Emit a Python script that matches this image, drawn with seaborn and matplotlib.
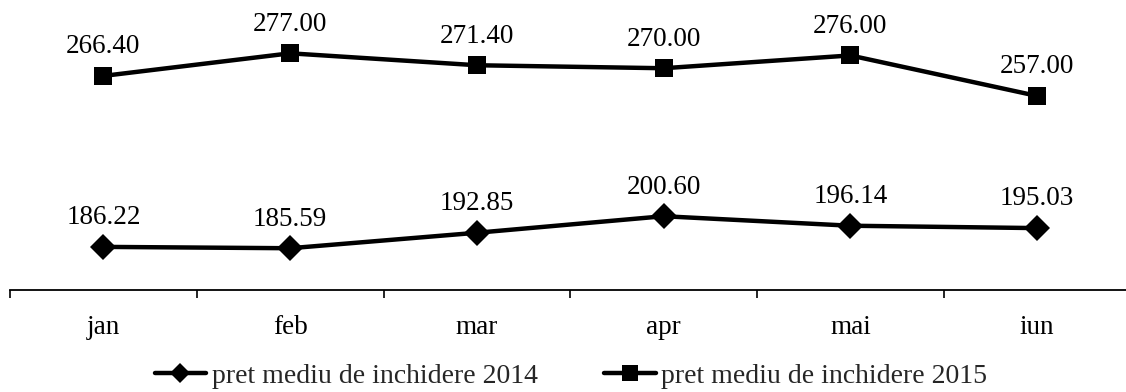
import matplotlib
matplotlib.use("Agg")
import matplotlib.pyplot as plt
from matplotlib.ticker import FixedLocator, NullFormatter
from matplotlib.lines import Line2D
import seaborn as sns
import pandas as pd

months = ["jan", "feb", "mar", "apr", "mai", "iun"]
pret_2014 = [186.22, 185.59, 192.85, 200.60, 196.14, 195.03]
pret_2015 = [266.40, 277.00, 271.40, 270.00, 276.00, 257.00]
label_2014 = "pret mediu de inchidere 2014"
label_2015 = "pret mediu de inchidere 2015"

sns.set_theme(style="white")
plt.rcParams["font.family"] = ["Liberation Serif", "DejaVu Serif"]

df = pd.DataFrame({
    "luna": months * 2,
    "pret": pret_2014 + pret_2015,
    "serie": [label_2014] * len(months) + [label_2015] * len(months),
})

fig = plt.figure(figsize=(11.26, 3.92), dpi=100)
ax = fig.add_axes([10 / 1126, 1 - 290 / 392, 1 - 10 / 1126 + 0.004, 290 / 392])

sns.lineplot(
    data=df, x="luna", y="pret", hue="serie", style="serie",
    markers={label_2014: "D", label_2015: "s"}, dashes=False,
    palette={label_2014: "black", label_2015: "black"},
    markersize=13, linewidth=3.2, markeredgewidth=0, ax=ax, legend=False,
)

# value labels above each point
for vals in (pret_2014, pret_2015):
    for i, v in enumerate(vals):
        ax.annotate(f"{v:.2f}", (i, v), xytext=(0, 12), textcoords="offset points",
                    ha="center", va="bottom", fontsize=19.5, color="black")

ax.set_xlim(-0.5, 5.5)
ax.set_ylim(166, 302)
ax.set_xlabel("")
ax.set_ylabel("")
ax.set_yticks([])
for side in ("top", "right", "left"):
    ax.spines[side].set_visible(False)
ax.spines["bottom"].set_color("black")
ax.spines["bottom"].set_linewidth(1.3)

ax.set_xticks(range(len(months)))
ax.set_xticklabels(months, fontsize=19.5)
ax.xaxis.set_minor_locator(FixedLocator([i + 0.5 for i in range(-1, len(months))]))
ax.xaxis.set_minor_formatter(NullFormatter())
ax.tick_params(axis="x", which="major", length=0, pad=18, colors="black")
ax.tick_params(axis="x", which="minor", length=6, width=1.2, direction="out",
               color="black", bottom=True)

handles = [
    Line2D([], [], color="black", lw=3.2, marker="D", markersize=10, markeredgewidth=0),
    Line2D([], [], color="black", lw=3.2, marker="s", markersize=12, markeredgewidth=0),
]
fig.legend(handles, [label_2014, label_2015], loc="lower center",
           bbox_to_anchor=(0.507, -0.055), ncol=2, frameon=False, fontsize=20,
           handlelength=1.85, handletextpad=0.2, columnspacing=2.4)

fig.savefig("out.png", dpi=100)
